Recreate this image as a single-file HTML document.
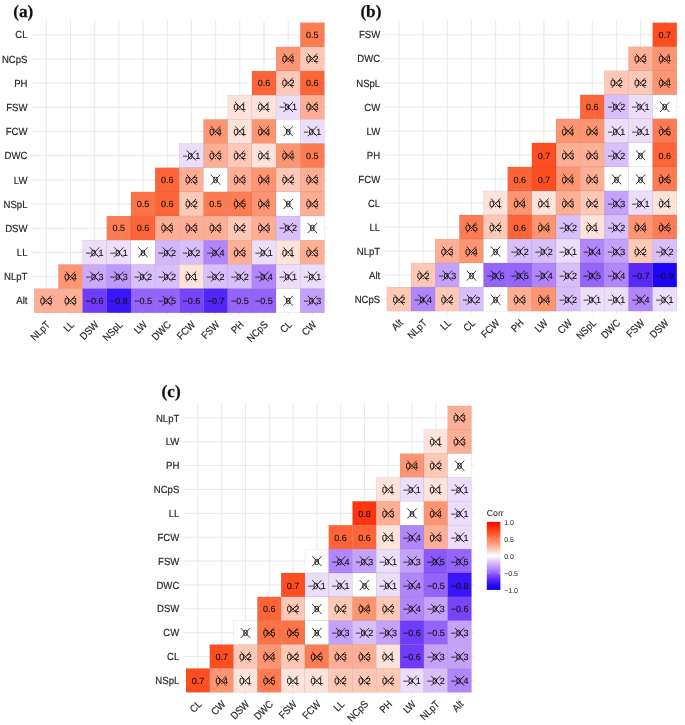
<!DOCTYPE html>
<html lang="en"><head><meta charset="utf-8"><title>Correlation heatmaps</title>
<style>
html,body{margin:0;padding:0;background:#fff}
body{width:685px;height:725px;overflow:hidden}
svg{display:block;will-change:transform;text-rendering:geometricPrecision;font-family:"Liberation Sans",sans-serif}
</style></head><body>
<svg width="685" height="725" viewBox="0 0 685 725">
<rect width="685" height="725" fill="#fff"/>
<g stroke="#DFDFDF" stroke-width="0.7">
<line x1="46.30" y1="20.28" x2="46.30" y2="315.22"/>
<line x1="31.78" y1="34.79" x2="326.90" y2="34.79"/>
<line x1="70.49" y1="20.28" x2="70.49" y2="315.22"/>
<line x1="31.78" y1="58.96" x2="326.90" y2="58.96"/>
<line x1="94.68" y1="20.28" x2="94.68" y2="315.22"/>
<line x1="31.78" y1="83.14" x2="326.90" y2="83.14"/>
<line x1="118.87" y1="20.28" x2="118.87" y2="315.22"/>
<line x1="31.78" y1="107.31" x2="326.90" y2="107.31"/>
<line x1="143.06" y1="20.28" x2="143.06" y2="315.22"/>
<line x1="31.78" y1="131.49" x2="326.90" y2="131.49"/>
<line x1="167.25" y1="20.28" x2="167.25" y2="315.22"/>
<line x1="31.78" y1="155.66" x2="326.90" y2="155.66"/>
<line x1="191.44" y1="20.28" x2="191.44" y2="315.22"/>
<line x1="31.78" y1="179.84" x2="326.90" y2="179.84"/>
<line x1="215.62" y1="20.28" x2="215.62" y2="315.22"/>
<line x1="31.78" y1="204.01" x2="326.90" y2="204.01"/>
<line x1="239.81" y1="20.28" x2="239.81" y2="315.22"/>
<line x1="31.78" y1="228.19" x2="326.90" y2="228.19"/>
<line x1="264.00" y1="20.28" x2="264.00" y2="315.22"/>
<line x1="31.78" y1="252.36" x2="326.90" y2="252.36"/>
<line x1="288.19" y1="20.28" x2="288.19" y2="315.22"/>
<line x1="31.78" y1="276.54" x2="326.90" y2="276.54"/>
<line x1="312.38" y1="20.28" x2="312.38" y2="315.22"/>
<line x1="31.78" y1="300.71" x2="326.90" y2="300.71"/>
</g>
<g stroke="#000" stroke-opacity="0.17" stroke-width="0.35">
<rect x="300.29" y="22.70" width="24.19" height="24.18" fill="#FD7C54"/>
<rect x="276.10" y="46.88" width="24.19" height="24.18" fill="#FD9573"/>
<rect x="300.29" y="46.88" width="24.19" height="24.18" fill="#FDC8B6"/>
<rect x="251.91" y="71.05" width="24.19" height="24.18" fill="#FD6538"/>
<rect x="276.10" y="71.05" width="24.19" height="24.18" fill="#FDC8B6"/>
<rect x="300.29" y="71.05" width="24.19" height="24.18" fill="#FD6538"/>
<rect x="227.72" y="95.23" width="24.19" height="24.18" fill="#FDE3D9"/>
<rect x="251.91" y="95.23" width="24.19" height="24.18" fill="#FDE3D9"/>
<rect x="276.10" y="95.23" width="24.19" height="24.18" fill="#ECDEFA"/>
<rect x="300.29" y="95.23" width="24.19" height="24.18" fill="#FDAE95"/>
<rect x="203.53" y="119.40" width="24.19" height="24.18" fill="#FD9573"/>
<rect x="227.72" y="119.40" width="24.19" height="24.18" fill="#FDE3D9"/>
<rect x="251.91" y="119.40" width="24.19" height="24.18" fill="#FD9573"/>
<rect x="276.10" y="119.40" width="24.19" height="24.18" fill="#FFFFFF"/>
<rect x="300.29" y="119.40" width="24.19" height="24.18" fill="#ECDEFA"/>
<rect x="179.34" y="143.57" width="24.19" height="24.18" fill="#ECDEFA"/>
<rect x="203.53" y="143.57" width="24.19" height="24.18" fill="#FDAE95"/>
<rect x="227.72" y="143.57" width="24.19" height="24.18" fill="#FDC8B6"/>
<rect x="251.91" y="143.57" width="24.19" height="24.18" fill="#FDE3D9"/>
<rect x="276.10" y="143.57" width="24.19" height="24.18" fill="#FD9573"/>
<rect x="300.29" y="143.57" width="24.19" height="24.18" fill="#FD7C54"/>
<rect x="155.15" y="167.75" width="24.19" height="24.18" fill="#FD6538"/>
<rect x="179.34" y="167.75" width="24.19" height="24.18" fill="#FDAE95"/>
<rect x="203.53" y="167.75" width="24.19" height="24.18" fill="#FFFFFF"/>
<rect x="227.72" y="167.75" width="24.19" height="24.18" fill="#FDAE95"/>
<rect x="251.91" y="167.75" width="24.19" height="24.18" fill="#FD9573"/>
<rect x="276.10" y="167.75" width="24.19" height="24.18" fill="#FDC8B6"/>
<rect x="300.29" y="167.75" width="24.19" height="24.18" fill="#FDAE95"/>
<rect x="130.96" y="191.92" width="24.19" height="24.18" fill="#FD7348"/>
<rect x="155.15" y="191.92" width="24.19" height="24.18" fill="#FD6538"/>
<rect x="179.34" y="191.92" width="24.19" height="24.18" fill="#FDC8B6"/>
<rect x="203.53" y="191.92" width="24.19" height="24.18" fill="#FD7C54"/>
<rect x="227.72" y="191.92" width="24.19" height="24.18" fill="#FD7C54"/>
<rect x="251.91" y="191.92" width="24.19" height="24.18" fill="#FD9573"/>
<rect x="276.10" y="191.92" width="24.19" height="24.18" fill="#FFFFFF"/>
<rect x="300.29" y="191.92" width="24.19" height="24.18" fill="#FDAE95"/>
<rect x="106.77" y="216.10" width="24.19" height="24.18" fill="#FD7C54"/>
<rect x="130.96" y="216.10" width="24.19" height="24.18" fill="#FD6538"/>
<rect x="155.15" y="216.10" width="24.19" height="24.18" fill="#FDAE95"/>
<rect x="179.34" y="216.10" width="24.19" height="24.18" fill="#FDAE95"/>
<rect x="203.53" y="216.10" width="24.19" height="24.18" fill="#FDAE95"/>
<rect x="227.72" y="216.10" width="24.19" height="24.18" fill="#FDC8B6"/>
<rect x="251.91" y="216.10" width="24.19" height="24.18" fill="#FDAE95"/>
<rect x="276.10" y="216.10" width="24.19" height="24.18" fill="#D9BFFA"/>
<rect x="300.29" y="216.10" width="24.19" height="24.18" fill="#FFFFFF"/>
<rect x="82.58" y="240.28" width="24.19" height="24.18" fill="#ECDEFA"/>
<rect x="106.77" y="240.28" width="24.19" height="24.18" fill="#ECDEFA"/>
<rect x="130.96" y="240.28" width="24.19" height="24.18" fill="#FFFFFF"/>
<rect x="155.15" y="240.28" width="24.19" height="24.18" fill="#D3B6FA"/>
<rect x="179.34" y="240.28" width="24.19" height="24.18" fill="#D9BFFA"/>
<rect x="203.53" y="240.28" width="24.19" height="24.18" fill="#B086FA"/>
<rect x="227.72" y="240.28" width="24.19" height="24.18" fill="#FDAE95"/>
<rect x="251.91" y="240.28" width="24.19" height="24.18" fill="#ECDEFA"/>
<rect x="276.10" y="240.28" width="24.19" height="24.18" fill="#FDE3D9"/>
<rect x="300.29" y="240.28" width="24.19" height="24.18" fill="#FDAE95"/>
<rect x="58.39" y="264.45" width="24.19" height="24.18" fill="#FD9573"/>
<rect x="82.58" y="264.45" width="24.19" height="24.18" fill="#CBAAFA"/>
<rect x="106.77" y="264.45" width="24.19" height="24.18" fill="#BE99FA"/>
<rect x="130.96" y="264.45" width="24.19" height="24.18" fill="#D9BFFA"/>
<rect x="155.15" y="264.45" width="24.19" height="24.18" fill="#D9BFFA"/>
<rect x="179.34" y="264.45" width="24.19" height="24.18" fill="#FDE3D9"/>
<rect x="203.53" y="264.45" width="24.19" height="24.18" fill="#D9BFFA"/>
<rect x="227.72" y="264.45" width="24.19" height="24.18" fill="#D9BFFA"/>
<rect x="251.91" y="264.45" width="24.19" height="24.18" fill="#B086FA"/>
<rect x="276.10" y="264.45" width="24.19" height="24.18" fill="#ECDEFA"/>
<rect x="300.29" y="264.45" width="24.19" height="24.18" fill="#ECDEFA"/>
<rect x="34.20" y="288.62" width="24.19" height="24.18" fill="#FDAE95"/>
<rect x="58.39" y="288.62" width="24.19" height="24.18" fill="#FDAE95"/>
<rect x="82.58" y="288.62" width="24.19" height="24.18" fill="#6E3CFA"/>
<rect x="106.77" y="288.62" width="24.19" height="24.18" fill="#3A14FA"/>
<rect x="130.96" y="288.62" width="24.19" height="24.18" fill="#9564FA"/>
<rect x="155.15" y="288.62" width="24.19" height="24.18" fill="#9564FA"/>
<rect x="179.34" y="288.62" width="24.19" height="24.18" fill="#7844FA"/>
<rect x="203.53" y="288.62" width="24.19" height="24.18" fill="#5325FA"/>
<rect x="227.72" y="288.62" width="24.19" height="24.18" fill="#9564FA"/>
<rect x="251.91" y="288.62" width="24.19" height="24.18" fill="#9564FA"/>
<rect x="276.10" y="288.62" width="24.19" height="24.18" fill="#FFFFFF"/>
<rect x="300.29" y="288.62" width="24.19" height="24.18" fill="#C5A2FA"/>
</g>
<g font-size="9.0" fill="#111" stroke="#111" stroke-width="0.12" text-anchor="middle">
<text x="312.38" y="37.76">0.5</text>
<text x="288.19" y="61.97">0.4</text>
<text x="312.38" y="61.97">0.2</text>
<text x="264.00" y="86.19">0.6</text>
<text x="288.19" y="86.19">0.2</text>
<text x="312.38" y="86.19">0.6</text>
<text x="239.81" y="110.40">0.1</text>
<text x="264.00" y="110.40">0.1</text>
<text x="288.19" y="110.40">−0.1</text>
<text x="312.38" y="110.40">0.3</text>
<text x="215.62" y="134.62">0.4</text>
<text x="239.81" y="134.62">0.1</text>
<text x="264.00" y="134.62">0.4</text>
<text x="288.19" y="134.62">0</text>
<text x="312.38" y="134.62">−0.1</text>
<text x="191.44" y="158.83">−0.1</text>
<text x="215.62" y="158.83">0.3</text>
<text x="239.81" y="158.83">0.2</text>
<text x="264.00" y="158.83">0.1</text>
<text x="288.19" y="158.83">0.4</text>
<text x="312.38" y="158.83">0.5</text>
<text x="167.25" y="183.05">0.6</text>
<text x="191.44" y="183.05">0.3</text>
<text x="215.62" y="183.05">0</text>
<text x="239.81" y="183.05">0.3</text>
<text x="264.00" y="183.05">0.4</text>
<text x="288.19" y="183.05">0.2</text>
<text x="312.38" y="183.05">0.3</text>
<text x="143.06" y="207.26">0.5</text>
<text x="167.25" y="207.26">0.6</text>
<text x="191.44" y="207.26">0.2</text>
<text x="215.62" y="207.26">0.5</text>
<text x="239.81" y="207.26">0.5</text>
<text x="264.00" y="207.26">0.4</text>
<text x="288.19" y="207.26">0</text>
<text x="312.38" y="207.26">0.3</text>
<text x="118.87" y="231.48">0.5</text>
<text x="143.06" y="231.48">0.6</text>
<text x="167.25" y="231.48">0.3</text>
<text x="191.44" y="231.48">0.3</text>
<text x="215.62" y="231.48">0.3</text>
<text x="239.81" y="231.48">0.2</text>
<text x="264.00" y="231.48">0.3</text>
<text x="288.19" y="231.48">−0.2</text>
<text x="312.38" y="231.48">0</text>
<text x="94.68" y="255.69">−0.1</text>
<text x="118.87" y="255.69">−0.1</text>
<text x="143.06" y="255.69">0</text>
<text x="167.25" y="255.69">−0.2</text>
<text x="191.44" y="255.69">−0.2</text>
<text x="215.62" y="255.69">−0.4</text>
<text x="239.81" y="255.69">0.3</text>
<text x="264.00" y="255.69">−0.1</text>
<text x="288.19" y="255.69">0.1</text>
<text x="312.38" y="255.69">0.3</text>
<text x="70.49" y="279.91">0.4</text>
<text x="94.68" y="279.91">−0.3</text>
<text x="118.87" y="279.91">−0.3</text>
<text x="143.06" y="279.91">−0.2</text>
<text x="167.25" y="279.91">−0.2</text>
<text x="191.44" y="279.91">0.1</text>
<text x="215.62" y="279.91">−0.2</text>
<text x="239.81" y="279.91">−0.2</text>
<text x="264.00" y="279.91">−0.4</text>
<text x="288.19" y="279.91">−0.1</text>
<text x="312.38" y="279.91">−0.1</text>
<text x="46.30" y="304.12">0.3</text>
<text x="70.49" y="304.12">0.3</text>
<text x="94.68" y="304.12">−0.6</text>
<text x="118.87" y="304.12">−0.8</text>
<text x="143.06" y="304.12">−0.5</text>
<text x="167.25" y="304.12">−0.5</text>
<text x="191.44" y="304.12">−0.6</text>
<text x="215.62" y="304.12">−0.7</text>
<text x="239.81" y="304.12">−0.5</text>
<text x="264.00" y="304.12">−0.5</text>
<text x="288.19" y="304.12">0</text>
<text x="312.38" y="304.12">−0.3</text>
</g>
<g stroke="#000" stroke-width="0.8" fill="none">
<path d="M283.50 53.62L292.89 63.58M283.50 63.58L292.89 53.62"/>
<path d="M307.69 53.62L317.08 63.58M307.69 63.58L317.08 53.62"/>
<path d="M283.50 77.84L292.89 87.80M283.50 87.80L292.89 77.84"/>
<path d="M235.12 102.05L244.51 112.01M235.12 112.01L244.51 102.05"/>
<path d="M259.31 102.05L268.70 112.01M259.31 112.01L268.70 102.05"/>
<path d="M283.50 102.05L292.89 112.01M283.50 112.01L292.89 102.05"/>
<path d="M307.69 102.05L317.08 112.01M307.69 112.01L317.08 102.05"/>
<path d="M210.93 126.27L220.32 136.23M210.93 136.23L220.32 126.27"/>
<path d="M235.12 126.27L244.51 136.23M235.12 136.23L244.51 126.27"/>
<path d="M259.31 126.27L268.70 136.23M259.31 136.23L268.70 126.27"/>
<path d="M283.50 126.27L292.89 136.23M283.50 136.23L292.89 126.27"/>
<path d="M307.69 126.27L317.08 136.23M307.69 136.23L317.08 126.27"/>
<path d="M186.74 150.48L196.13 160.44M186.74 160.44L196.13 150.48"/>
<path d="M210.93 150.48L220.32 160.44M210.93 160.44L220.32 150.48"/>
<path d="M235.12 150.48L244.51 160.44M235.12 160.44L244.51 150.48"/>
<path d="M259.31 150.48L268.70 160.44M259.31 160.44L268.70 150.48"/>
<path d="M283.50 150.48L292.89 160.44M283.50 160.44L292.89 150.48"/>
<path d="M186.74 174.70L196.13 184.66M186.74 184.66L196.13 174.70"/>
<path d="M210.93 174.70L220.32 184.66M210.93 184.66L220.32 174.70"/>
<path d="M235.12 174.70L244.51 184.66M235.12 184.66L244.51 174.70"/>
<path d="M259.31 174.70L268.70 184.66M259.31 184.66L268.70 174.70"/>
<path d="M283.50 174.70L292.89 184.66M283.50 184.66L292.89 174.70"/>
<path d="M307.69 174.70L317.08 184.66M307.69 184.66L317.08 174.70"/>
<path d="M186.74 198.91L196.13 208.87M186.74 208.87L196.13 198.91"/>
<path d="M235.12 198.91L244.51 208.87M235.12 208.87L244.51 198.91"/>
<path d="M259.31 198.91L268.70 208.87M259.31 208.87L268.70 198.91"/>
<path d="M283.50 198.91L292.89 208.87M283.50 208.87L292.89 198.91"/>
<path d="M307.69 198.91L317.08 208.87M307.69 208.87L317.08 198.91"/>
<path d="M162.55 223.13L171.94 233.09M162.55 233.09L171.94 223.13"/>
<path d="M186.74 223.13L196.13 233.09M186.74 233.09L196.13 223.13"/>
<path d="M210.93 223.13L220.32 233.09M210.93 233.09L220.32 223.13"/>
<path d="M235.12 223.13L244.51 233.09M235.12 233.09L244.51 223.13"/>
<path d="M259.31 223.13L268.70 233.09M259.31 233.09L268.70 223.13"/>
<path d="M283.50 223.13L292.89 233.09M283.50 233.09L292.89 223.13"/>
<path d="M307.69 223.13L317.08 233.09M307.69 233.09L317.08 223.13"/>
<path d="M89.98 247.34L99.38 257.30M89.98 257.30L99.38 247.34"/>
<path d="M114.17 247.34L123.57 257.30M114.17 257.30L123.57 247.34"/>
<path d="M138.36 247.34L147.75 257.30M138.36 257.30L147.75 247.34"/>
<path d="M162.55 247.34L171.94 257.30M162.55 257.30L171.94 247.34"/>
<path d="M186.74 247.34L196.13 257.30M186.74 257.30L196.13 247.34"/>
<path d="M210.93 247.34L220.32 257.30M210.93 257.30L220.32 247.34"/>
<path d="M235.12 247.34L244.51 257.30M235.12 257.30L244.51 247.34"/>
<path d="M259.31 247.34L268.70 257.30M259.31 257.30L268.70 247.34"/>
<path d="M283.50 247.34L292.89 257.30M283.50 257.30L292.89 247.34"/>
<path d="M307.69 247.34L317.08 257.30M307.69 257.30L317.08 247.34"/>
<path d="M65.79 271.56L75.19 281.52M65.79 281.52L75.19 271.56"/>
<path d="M89.98 271.56L99.38 281.52M89.98 281.52L99.38 271.56"/>
<path d="M114.17 271.56L123.57 281.52M114.17 281.52L123.57 271.56"/>
<path d="M138.36 271.56L147.75 281.52M138.36 281.52L147.75 271.56"/>
<path d="M162.55 271.56L171.94 281.52M162.55 281.52L171.94 271.56"/>
<path d="M186.74 271.56L196.13 281.52M186.74 281.52L196.13 271.56"/>
<path d="M210.93 271.56L220.32 281.52M210.93 281.52L220.32 271.56"/>
<path d="M235.12 271.56L244.51 281.52M235.12 281.52L244.51 271.56"/>
<path d="M259.31 271.56L268.70 281.52M259.31 281.52L268.70 271.56"/>
<path d="M283.50 271.56L292.89 281.52M283.50 281.52L292.89 271.56"/>
<path d="M307.69 271.56L317.08 281.52M307.69 281.52L317.08 271.56"/>
<path d="M41.59 295.77L51.00 305.73M41.59 305.73L51.00 295.77"/>
<path d="M65.79 295.77L75.19 305.73M65.79 305.73L75.19 295.77"/>
<path d="M162.55 295.77L171.94 305.73M162.55 305.73L171.94 295.77"/>
<path d="M283.50 295.77L292.89 305.73M283.50 305.73L292.89 295.77"/>
<path d="M307.69 295.77L317.08 305.73M307.69 305.73L317.08 295.77"/>
</g>
<g font-size="10.3" fill="#262626" stroke="#262626" stroke-width="0.18" text-anchor="end">
<text transform="translate(27.48 38.47) scale(0.93 1)">CL</text>
<text transform="translate(27.48 62.65) scale(0.93 1)">NCpS</text>
<text transform="translate(27.48 86.82) scale(0.93 1)">PH</text>
<text transform="translate(27.48 111.00) scale(0.93 1)">FSW</text>
<text transform="translate(27.48 135.17) scale(0.93 1)">FCW</text>
<text transform="translate(27.48 159.35) scale(0.93 1)">DWC</text>
<text transform="translate(27.48 183.52) scale(0.93 1)">LW</text>
<text transform="translate(27.48 207.70) scale(0.93 1)">NSpL</text>
<text transform="translate(27.48 231.87) scale(0.93 1)">DSW</text>
<text transform="translate(27.48 256.05) scale(0.93 1)">LL</text>
<text transform="translate(27.48 280.22) scale(0.93 1)">NLpT</text>
<text transform="translate(27.48 304.40) scale(0.93 1)">Alt</text>
</g>
<g font-size="10.3" fill="#262626" stroke="#262626" stroke-width="0.18" text-anchor="end">
<text transform="translate(48.20 322.62) rotate(-45) scale(0.9 1)" x="0" y="3.69">NLpT</text>
<text transform="translate(72.39 322.62) rotate(-45) scale(0.9 1)" x="0" y="3.69">LL</text>
<text transform="translate(96.58 322.62) rotate(-45) scale(0.9 1)" x="0" y="3.69">DSW</text>
<text transform="translate(120.77 322.62) rotate(-45) scale(0.9 1)" x="0" y="3.69">NSpL</text>
<text transform="translate(144.96 322.62) rotate(-45) scale(0.9 1)" x="0" y="3.69">LW</text>
<text transform="translate(169.15 322.62) rotate(-45) scale(0.9 1)" x="0" y="3.69">DWC</text>
<text transform="translate(193.34 322.62) rotate(-45) scale(0.9 1)" x="0" y="3.69">FCW</text>
<text transform="translate(217.53 322.62) rotate(-45) scale(0.9 1)" x="0" y="3.69">FSW</text>
<text transform="translate(241.72 322.62) rotate(-45) scale(0.9 1)" x="0" y="3.69">PH</text>
<text transform="translate(265.90 322.62) rotate(-45) scale(0.9 1)" x="0" y="3.69">NCpS</text>
<text transform="translate(290.09 322.62) rotate(-45) scale(0.9 1)" x="0" y="3.69">CL</text>
<text transform="translate(314.28 322.62) rotate(-45) scale(0.9 1)" x="0" y="3.69">CW</text>
</g>
<text x="13.3" y="17.0" font-family="'Liberation Serif',serif" font-weight="bold" font-size="17.2" fill="#111" stroke="#111" stroke-width="0.25">(a)</text>
<g stroke="#DFDFDF" stroke-width="0.7">
<line x1="398.98" y1="20.36" x2="398.98" y2="313.52"/>
<line x1="384.48" y1="34.78" x2="679.24" y2="34.78"/>
<line x1="423.14" y1="20.36" x2="423.14" y2="313.52"/>
<line x1="384.48" y1="58.81" x2="679.24" y2="58.81"/>
<line x1="447.30" y1="20.36" x2="447.30" y2="313.52"/>
<line x1="384.48" y1="82.84" x2="679.24" y2="82.84"/>
<line x1="471.46" y1="20.36" x2="471.46" y2="313.52"/>
<line x1="384.48" y1="106.87" x2="679.24" y2="106.87"/>
<line x1="495.62" y1="20.36" x2="495.62" y2="313.52"/>
<line x1="384.48" y1="130.90" x2="679.24" y2="130.90"/>
<line x1="519.78" y1="20.36" x2="519.78" y2="313.52"/>
<line x1="384.48" y1="154.93" x2="679.24" y2="154.93"/>
<line x1="543.94" y1="20.36" x2="543.94" y2="313.52"/>
<line x1="384.48" y1="178.95" x2="679.24" y2="178.95"/>
<line x1="568.10" y1="20.36" x2="568.10" y2="313.52"/>
<line x1="384.48" y1="202.99" x2="679.24" y2="202.99"/>
<line x1="592.26" y1="20.36" x2="592.26" y2="313.52"/>
<line x1="384.48" y1="227.01" x2="679.24" y2="227.01"/>
<line x1="616.42" y1="20.36" x2="616.42" y2="313.52"/>
<line x1="384.48" y1="251.05" x2="679.24" y2="251.05"/>
<line x1="640.58" y1="20.36" x2="640.58" y2="313.52"/>
<line x1="384.48" y1="275.07" x2="679.24" y2="275.07"/>
<line x1="664.74" y1="20.36" x2="664.74" y2="313.52"/>
<line x1="384.48" y1="299.11" x2="679.24" y2="299.11"/>
</g>
<g stroke="#000" stroke-opacity="0.17" stroke-width="0.35">
<rect x="652.66" y="22.76" width="24.16" height="24.03" fill="#FD4E22"/>
<rect x="628.50" y="46.79" width="24.16" height="24.03" fill="#FDAE95"/>
<rect x="652.66" y="46.79" width="24.16" height="24.03" fill="#FD9573"/>
<rect x="604.34" y="70.82" width="24.16" height="24.03" fill="#FDC8B6"/>
<rect x="628.50" y="70.82" width="24.16" height="24.03" fill="#FDC8B6"/>
<rect x="652.66" y="70.82" width="24.16" height="24.03" fill="#FD9573"/>
<rect x="580.18" y="94.85" width="24.16" height="24.03" fill="#FD6538"/>
<rect x="604.34" y="94.85" width="24.16" height="24.03" fill="#D9BFFA"/>
<rect x="628.50" y="94.85" width="24.16" height="24.03" fill="#ECDEFA"/>
<rect x="652.66" y="94.85" width="24.16" height="24.03" fill="#FFFFFF"/>
<rect x="556.02" y="118.88" width="24.16" height="24.03" fill="#FD9573"/>
<rect x="580.18" y="118.88" width="24.16" height="24.03" fill="#FD9573"/>
<rect x="604.34" y="118.88" width="24.16" height="24.03" fill="#ECDEFA"/>
<rect x="628.50" y="118.88" width="24.16" height="24.03" fill="#ECDEFA"/>
<rect x="652.66" y="118.88" width="24.16" height="24.03" fill="#FD7C54"/>
<rect x="531.86" y="142.91" width="24.16" height="24.03" fill="#FD4E22"/>
<rect x="556.02" y="142.91" width="24.16" height="24.03" fill="#FDAE95"/>
<rect x="580.18" y="142.91" width="24.16" height="24.03" fill="#FDAE95"/>
<rect x="604.34" y="142.91" width="24.16" height="24.03" fill="#D9BFFA"/>
<rect x="628.50" y="142.91" width="24.16" height="24.03" fill="#FFFFFF"/>
<rect x="652.66" y="142.91" width="24.16" height="24.03" fill="#FD6538"/>
<rect x="507.70" y="166.94" width="24.16" height="24.03" fill="#FD6538"/>
<rect x="531.86" y="166.94" width="24.16" height="24.03" fill="#FD4E22"/>
<rect x="556.02" y="166.94" width="24.16" height="24.03" fill="#FD9573"/>
<rect x="580.18" y="166.94" width="24.16" height="24.03" fill="#FDAE95"/>
<rect x="604.34" y="166.94" width="24.16" height="24.03" fill="#FFFFFF"/>
<rect x="628.50" y="166.94" width="24.16" height="24.03" fill="#FFFFFF"/>
<rect x="652.66" y="166.94" width="24.16" height="24.03" fill="#FD7C54"/>
<rect x="483.54" y="190.97" width="24.16" height="24.03" fill="#FDE3D9"/>
<rect x="507.70" y="190.97" width="24.16" height="24.03" fill="#FD9573"/>
<rect x="531.86" y="190.97" width="24.16" height="24.03" fill="#FDE3D9"/>
<rect x="556.02" y="190.97" width="24.16" height="24.03" fill="#FDAE95"/>
<rect x="580.18" y="190.97" width="24.16" height="24.03" fill="#FDC8B6"/>
<rect x="604.34" y="190.97" width="24.16" height="24.03" fill="#C5A2FA"/>
<rect x="628.50" y="190.97" width="24.16" height="24.03" fill="#ECDEFA"/>
<rect x="652.66" y="190.97" width="24.16" height="24.03" fill="#FDE3D9"/>
<rect x="459.38" y="215.00" width="24.16" height="24.03" fill="#FD7C54"/>
<rect x="483.54" y="215.00" width="24.16" height="24.03" fill="#FDC8B6"/>
<rect x="507.70" y="215.00" width="24.16" height="24.03" fill="#FD6538"/>
<rect x="531.86" y="215.00" width="24.16" height="24.03" fill="#FD9573"/>
<rect x="556.02" y="215.00" width="24.16" height="24.03" fill="#D9BFFA"/>
<rect x="580.18" y="215.00" width="24.16" height="24.03" fill="#FDE3D9"/>
<rect x="604.34" y="215.00" width="24.16" height="24.03" fill="#D9BFFA"/>
<rect x="628.50" y="215.00" width="24.16" height="24.03" fill="#FD9573"/>
<rect x="652.66" y="215.00" width="24.16" height="24.03" fill="#FD7C54"/>
<rect x="435.22" y="239.03" width="24.16" height="24.03" fill="#FDAE95"/>
<rect x="459.38" y="239.03" width="24.16" height="24.03" fill="#FD9573"/>
<rect x="483.54" y="239.03" width="24.16" height="24.03" fill="#FFFFFF"/>
<rect x="507.70" y="239.03" width="24.16" height="24.03" fill="#D9BFFA"/>
<rect x="531.86" y="239.03" width="24.16" height="24.03" fill="#D9BFFA"/>
<rect x="556.02" y="239.03" width="24.16" height="24.03" fill="#ECDEFA"/>
<rect x="580.18" y="239.03" width="24.16" height="24.03" fill="#B086FA"/>
<rect x="604.34" y="239.03" width="24.16" height="24.03" fill="#C5A2FA"/>
<rect x="628.50" y="239.03" width="24.16" height="24.03" fill="#FDC8B6"/>
<rect x="652.66" y="239.03" width="24.16" height="24.03" fill="#D9BFFA"/>
<rect x="411.06" y="263.06" width="24.16" height="24.03" fill="#FDC8B6"/>
<rect x="435.22" y="263.06" width="24.16" height="24.03" fill="#C5A2FA"/>
<rect x="459.38" y="263.06" width="24.16" height="24.03" fill="#FFFFFF"/>
<rect x="483.54" y="263.06" width="24.16" height="24.03" fill="#9564FA"/>
<rect x="507.70" y="263.06" width="24.16" height="24.03" fill="#9564FA"/>
<rect x="531.86" y="263.06" width="24.16" height="24.03" fill="#B086FA"/>
<rect x="556.02" y="263.06" width="24.16" height="24.03" fill="#D9BFFA"/>
<rect x="580.18" y="263.06" width="24.16" height="24.03" fill="#9564FA"/>
<rect x="604.34" y="263.06" width="24.16" height="24.03" fill="#B086FA"/>
<rect x="628.50" y="263.06" width="24.16" height="24.03" fill="#5929FA"/>
<rect x="652.66" y="263.06" width="24.16" height="24.03" fill="#1B06FA"/>
<rect x="386.90" y="287.09" width="24.16" height="24.03" fill="#FDC8B6"/>
<rect x="411.06" y="287.09" width="24.16" height="24.03" fill="#B086FA"/>
<rect x="435.22" y="287.09" width="24.16" height="24.03" fill="#FDC8B6"/>
<rect x="459.38" y="287.09" width="24.16" height="24.03" fill="#D9BFFA"/>
<rect x="483.54" y="287.09" width="24.16" height="24.03" fill="#FFFFFF"/>
<rect x="507.70" y="287.09" width="24.16" height="24.03" fill="#FDAE95"/>
<rect x="531.86" y="287.09" width="24.16" height="24.03" fill="#FD9573"/>
<rect x="556.02" y="287.09" width="24.16" height="24.03" fill="#D9BFFA"/>
<rect x="580.18" y="287.09" width="24.16" height="24.03" fill="#ECDEFA"/>
<rect x="604.34" y="287.09" width="24.16" height="24.03" fill="#ECDEFA"/>
<rect x="628.50" y="287.09" width="24.16" height="24.03" fill="#B086FA"/>
<rect x="652.66" y="287.09" width="24.16" height="24.03" fill="#ECDEFA"/>
</g>
<g font-size="9.0" fill="#111" stroke="#111" stroke-width="0.12" text-anchor="middle">
<text x="664.74" y="38.15">0.7</text>
<text x="640.58" y="62.24">0.3</text>
<text x="664.74" y="62.24">0.4</text>
<text x="616.42" y="86.33">0.2</text>
<text x="640.58" y="86.33">0.2</text>
<text x="664.74" y="86.33">0.4</text>
<text x="592.26" y="110.42">0.6</text>
<text x="616.42" y="110.42">−0.2</text>
<text x="640.58" y="110.42">−0.1</text>
<text x="664.74" y="110.42">0</text>
<text x="568.10" y="134.51">0.4</text>
<text x="592.26" y="134.51">0.4</text>
<text x="616.42" y="134.51">−0.1</text>
<text x="640.58" y="134.51">−0.1</text>
<text x="664.74" y="134.51">0.5</text>
<text x="543.94" y="158.60">0.7</text>
<text x="568.10" y="158.60">0.3</text>
<text x="592.26" y="158.60">0.3</text>
<text x="616.42" y="158.60">−0.2</text>
<text x="640.58" y="158.60">0</text>
<text x="664.74" y="158.60">0.6</text>
<text x="519.78" y="182.69">0.6</text>
<text x="543.94" y="182.69">0.7</text>
<text x="568.10" y="182.69">0.4</text>
<text x="592.26" y="182.69">0.3</text>
<text x="616.42" y="182.69">0</text>
<text x="640.58" y="182.69">0</text>
<text x="664.74" y="182.69">0.5</text>
<text x="495.62" y="206.78">0.1</text>
<text x="519.78" y="206.78">0.4</text>
<text x="543.94" y="206.78">0.1</text>
<text x="568.10" y="206.78">0.3</text>
<text x="592.26" y="206.78">0.2</text>
<text x="616.42" y="206.78">−0.3</text>
<text x="640.58" y="206.78">−0.1</text>
<text x="664.74" y="206.78">0.1</text>
<text x="471.46" y="230.87">0.5</text>
<text x="495.62" y="230.87">0.2</text>
<text x="519.78" y="230.87">0.6</text>
<text x="543.94" y="230.87">0.4</text>
<text x="568.10" y="230.87">−0.2</text>
<text x="592.26" y="230.87">0.1</text>
<text x="616.42" y="230.87">−0.2</text>
<text x="640.58" y="230.87">0.4</text>
<text x="664.74" y="230.87">0.5</text>
<text x="447.30" y="254.96">0.3</text>
<text x="471.46" y="254.96">0.4</text>
<text x="495.62" y="254.96">0</text>
<text x="519.78" y="254.96">−0.2</text>
<text x="543.94" y="254.96">−0.2</text>
<text x="568.10" y="254.96">−0.1</text>
<text x="592.26" y="254.96">−0.4</text>
<text x="616.42" y="254.96">−0.3</text>
<text x="640.58" y="254.96">0.2</text>
<text x="664.74" y="254.96">−0.2</text>
<text x="423.14" y="279.05">0.2</text>
<text x="447.30" y="279.05">−0.3</text>
<text x="471.46" y="279.05">0</text>
<text x="495.62" y="279.05">−0.5</text>
<text x="519.78" y="279.05">−0.5</text>
<text x="543.94" y="279.05">−0.4</text>
<text x="568.10" y="279.05">−0.2</text>
<text x="592.26" y="279.05">−0.5</text>
<text x="616.42" y="279.05">−0.4</text>
<text x="640.58" y="279.05">−0.7</text>
<text x="664.74" y="279.05">−0.9</text>
<text x="398.98" y="303.14">0.2</text>
<text x="423.14" y="303.14">−0.4</text>
<text x="447.30" y="303.14">0.2</text>
<text x="471.46" y="303.14">−0.2</text>
<text x="495.62" y="303.14">0</text>
<text x="519.78" y="303.14">0.3</text>
<text x="543.94" y="303.14">0.4</text>
<text x="568.10" y="303.14">−0.2</text>
<text x="592.26" y="303.14">−0.1</text>
<text x="616.42" y="303.14">−0.1</text>
<text x="640.58" y="303.14">−0.4</text>
<text x="664.74" y="303.14">−0.1</text>
</g>
<g stroke="#000" stroke-width="0.8" fill="none">
<path d="M635.88 53.88L645.28 63.85M635.88 63.85L645.28 53.88"/>
<path d="M660.04 53.88L669.44 63.85M660.04 63.85L669.44 53.88"/>
<path d="M611.72 77.97L621.12 87.94M611.72 87.94L621.12 77.97"/>
<path d="M635.88 77.97L645.28 87.94M635.88 87.94L645.28 77.97"/>
<path d="M660.04 77.97L669.44 87.94M660.04 87.94L669.44 77.97"/>
<path d="M611.72 102.06L621.12 112.03M611.72 112.03L621.12 102.06"/>
<path d="M635.88 102.06L645.28 112.03M635.88 112.03L645.28 102.06"/>
<path d="M660.04 102.06L669.44 112.03M660.04 112.03L669.44 102.06"/>
<path d="M563.40 126.15L572.80 136.12M563.40 136.12L572.80 126.15"/>
<path d="M587.56 126.15L596.96 136.12M587.56 136.12L596.96 126.15"/>
<path d="M611.72 126.15L621.12 136.12M611.72 136.12L621.12 126.15"/>
<path d="M635.88 126.15L645.28 136.12M635.88 136.12L645.28 126.15"/>
<path d="M660.04 126.15L669.44 136.12M660.04 136.12L669.44 126.15"/>
<path d="M563.40 150.24L572.80 160.21M563.40 160.21L572.80 150.24"/>
<path d="M587.56 150.24L596.96 160.21M587.56 160.21L596.96 150.24"/>
<path d="M611.72 150.24L621.12 160.21M611.72 160.21L621.12 150.24"/>
<path d="M635.88 150.24L645.28 160.21M635.88 160.21L645.28 150.24"/>
<path d="M563.40 174.33L572.80 184.30M563.40 184.30L572.80 174.33"/>
<path d="M587.56 174.33L596.96 184.30M587.56 184.30L596.96 174.33"/>
<path d="M611.72 174.33L621.12 184.30M611.72 184.30L621.12 174.33"/>
<path d="M635.88 174.33L645.28 184.30M635.88 184.30L645.28 174.33"/>
<path d="M660.04 174.33L669.44 184.30M660.04 184.30L669.44 174.33"/>
<path d="M490.92 198.42L500.32 208.39M490.92 208.39L500.32 198.42"/>
<path d="M515.08 198.42L524.48 208.39M515.08 208.39L524.48 198.42"/>
<path d="M539.24 198.42L548.64 208.39M539.24 208.39L548.64 198.42"/>
<path d="M563.40 198.42L572.80 208.39M563.40 208.39L572.80 198.42"/>
<path d="M587.56 198.42L596.96 208.39M587.56 208.39L596.96 198.42"/>
<path d="M611.72 198.42L621.12 208.39M611.72 208.39L621.12 198.42"/>
<path d="M635.88 198.42L645.28 208.39M635.88 208.39L645.28 198.42"/>
<path d="M660.04 198.42L669.44 208.39M660.04 208.39L669.44 198.42"/>
<path d="M466.76 222.51L476.16 232.48M466.76 232.48L476.16 222.51"/>
<path d="M490.92 222.51L500.32 232.48M490.92 232.48L500.32 222.51"/>
<path d="M539.24 222.51L548.64 232.48M539.24 232.48L548.64 222.51"/>
<path d="M563.40 222.51L572.80 232.48M563.40 232.48L572.80 222.51"/>
<path d="M587.56 222.51L596.96 232.48M587.56 232.48L596.96 222.51"/>
<path d="M611.72 222.51L621.12 232.48M611.72 232.48L621.12 222.51"/>
<path d="M635.88 222.51L645.28 232.48M635.88 232.48L645.28 222.51"/>
<path d="M660.04 222.51L669.44 232.48M660.04 232.48L669.44 222.51"/>
<path d="M442.60 246.60L452.00 256.57M442.60 256.57L452.00 246.60"/>
<path d="M466.76 246.60L476.16 256.57M466.76 256.57L476.16 246.60"/>
<path d="M490.92 246.60L500.32 256.57M490.92 256.57L500.32 246.60"/>
<path d="M515.08 246.60L524.48 256.57M515.08 256.57L524.48 246.60"/>
<path d="M539.24 246.60L548.64 256.57M539.24 256.57L548.64 246.60"/>
<path d="M563.40 246.60L572.80 256.57M563.40 256.57L572.80 246.60"/>
<path d="M587.56 246.60L596.96 256.57M587.56 256.57L596.96 246.60"/>
<path d="M611.72 246.60L621.12 256.57M611.72 256.57L621.12 246.60"/>
<path d="M635.88 246.60L645.28 256.57M635.88 256.57L645.28 246.60"/>
<path d="M660.04 246.60L669.44 256.57M660.04 256.57L669.44 246.60"/>
<path d="M418.44 270.69L427.84 280.66M418.44 280.66L427.84 270.69"/>
<path d="M442.60 270.69L452.00 280.66M442.60 280.66L452.00 270.69"/>
<path d="M466.76 270.69L476.16 280.66M466.76 280.66L476.16 270.69"/>
<path d="M490.92 270.69L500.32 280.66M490.92 280.66L500.32 270.69"/>
<path d="M515.08 270.69L524.48 280.66M515.08 280.66L524.48 270.69"/>
<path d="M539.24 270.69L548.64 280.66M539.24 280.66L548.64 270.69"/>
<path d="M563.40 270.69L572.80 280.66M563.40 280.66L572.80 270.69"/>
<path d="M587.56 270.69L596.96 280.66M587.56 280.66L596.96 270.69"/>
<path d="M611.72 270.69L621.12 280.66M611.72 280.66L621.12 270.69"/>
<path d="M394.28 294.78L403.68 304.75M394.28 304.75L403.68 294.78"/>
<path d="M418.44 294.78L427.84 304.75M418.44 304.75L427.84 294.78"/>
<path d="M442.60 294.78L452.00 304.75M442.60 304.75L452.00 294.78"/>
<path d="M466.76 294.78L476.16 304.75M466.76 304.75L476.16 294.78"/>
<path d="M490.92 294.78L500.32 304.75M490.92 304.75L500.32 294.78"/>
<path d="M515.08 294.78L524.48 304.75M515.08 304.75L524.48 294.78"/>
<path d="M539.24 294.78L548.64 304.75M539.24 304.75L548.64 294.78"/>
<path d="M563.40 294.78L572.80 304.75M563.40 304.75L572.80 294.78"/>
<path d="M587.56 294.78L596.96 304.75M587.56 304.75L596.96 294.78"/>
<path d="M611.72 294.78L621.12 304.75M611.72 304.75L621.12 294.78"/>
<path d="M635.88 294.78L645.28 304.75M635.88 304.75L645.28 294.78"/>
<path d="M660.04 294.78L669.44 304.75M660.04 304.75L669.44 294.78"/>
</g>
<g font-size="10.3" fill="#262626" stroke="#262626" stroke-width="0.18" text-anchor="end">
<text transform="translate(380.18 38.46) scale(0.93 1)">FSW</text>
<text transform="translate(380.18 62.49) scale(0.93 1)">DWC</text>
<text transform="translate(380.18 86.52) scale(0.93 1)">NSpL</text>
<text transform="translate(380.18 110.55) scale(0.93 1)">CW</text>
<text transform="translate(380.18 134.58) scale(0.93 1)">LW</text>
<text transform="translate(380.18 158.61) scale(0.93 1)">PH</text>
<text transform="translate(380.18 182.64) scale(0.93 1)">FCW</text>
<text transform="translate(380.18 206.67) scale(0.93 1)">CL</text>
<text transform="translate(380.18 230.70) scale(0.93 1)">LL</text>
<text transform="translate(380.18 254.73) scale(0.93 1)">NLpT</text>
<text transform="translate(380.18 278.76) scale(0.93 1)">Alt</text>
<text transform="translate(380.18 302.79) scale(0.93 1)">NCpS</text>
</g>
<g font-size="10.3" fill="#262626" stroke="#262626" stroke-width="0.18" text-anchor="end">
<text transform="translate(400.88 320.92) rotate(-45) scale(0.9 1)" x="0" y="3.69">Alt</text>
<text transform="translate(425.04 320.92) rotate(-45) scale(0.9 1)" x="0" y="3.69">NLpT</text>
<text transform="translate(449.20 320.92) rotate(-45) scale(0.9 1)" x="0" y="3.69">LL</text>
<text transform="translate(473.36 320.92) rotate(-45) scale(0.9 1)" x="0" y="3.69">CL</text>
<text transform="translate(497.52 320.92) rotate(-45) scale(0.9 1)" x="0" y="3.69">FCW</text>
<text transform="translate(521.68 320.92) rotate(-45) scale(0.9 1)" x="0" y="3.69">PH</text>
<text transform="translate(545.84 320.92) rotate(-45) scale(0.9 1)" x="0" y="3.69">LW</text>
<text transform="translate(570.00 320.92) rotate(-45) scale(0.9 1)" x="0" y="3.69">CW</text>
<text transform="translate(594.16 320.92) rotate(-45) scale(0.9 1)" x="0" y="3.69">NSpL</text>
<text transform="translate(618.32 320.92) rotate(-45) scale(0.9 1)" x="0" y="3.69">DWC</text>
<text transform="translate(642.48 320.92) rotate(-45) scale(0.9 1)" x="0" y="3.69">FSW</text>
<text transform="translate(666.64 320.92) rotate(-45) scale(0.9 1)" x="0" y="3.69">DSW</text>
</g>
<text x="360.4" y="17.3" font-family="'Liberation Serif',serif" font-weight="bold" font-size="17.2" fill="#111" stroke="#111" stroke-width="0.25">(b)</text>
<g stroke="#DFDFDF" stroke-width="0.7">
<line x1="197.90" y1="403.51" x2="197.90" y2="694.73"/>
<line x1="183.62" y1="417.83" x2="473.86" y2="417.83"/>
<line x1="221.69" y1="403.51" x2="221.69" y2="694.73"/>
<line x1="183.62" y1="441.70" x2="473.86" y2="441.70"/>
<line x1="245.47" y1="403.51" x2="245.47" y2="694.73"/>
<line x1="183.62" y1="465.57" x2="473.86" y2="465.57"/>
<line x1="269.26" y1="403.51" x2="269.26" y2="694.73"/>
<line x1="183.62" y1="489.44" x2="473.86" y2="489.44"/>
<line x1="293.06" y1="403.51" x2="293.06" y2="694.73"/>
<line x1="183.62" y1="513.31" x2="473.86" y2="513.31"/>
<line x1="316.85" y1="403.51" x2="316.85" y2="694.73"/>
<line x1="183.62" y1="537.18" x2="473.86" y2="537.18"/>
<line x1="340.63" y1="403.51" x2="340.63" y2="694.73"/>
<line x1="183.62" y1="561.05" x2="473.86" y2="561.05"/>
<line x1="364.42" y1="403.51" x2="364.42" y2="694.73"/>
<line x1="183.62" y1="584.92" x2="473.86" y2="584.92"/>
<line x1="388.22" y1="403.51" x2="388.22" y2="694.73"/>
<line x1="183.62" y1="608.79" x2="473.86" y2="608.79"/>
<line x1="412.00" y1="403.51" x2="412.00" y2="694.73"/>
<line x1="183.62" y1="632.66" x2="473.86" y2="632.66"/>
<line x1="435.79" y1="403.51" x2="435.79" y2="694.73"/>
<line x1="183.62" y1="656.53" x2="473.86" y2="656.53"/>
<line x1="459.58" y1="403.51" x2="459.58" y2="694.73"/>
<line x1="183.62" y1="680.40" x2="473.86" y2="680.40"/>
</g>
<g stroke="#000" stroke-opacity="0.17" stroke-width="0.35">
<rect x="447.69" y="405.90" width="23.79" height="23.87" fill="#FDAE95"/>
<rect x="423.90" y="429.77" width="23.79" height="23.87" fill="#FDE3D9"/>
<rect x="447.69" y="429.77" width="23.79" height="23.87" fill="#FDAE95"/>
<rect x="400.11" y="453.64" width="23.79" height="23.87" fill="#FD9573"/>
<rect x="423.90" y="453.64" width="23.79" height="23.87" fill="#FDC8B6"/>
<rect x="447.69" y="453.64" width="23.79" height="23.87" fill="#FFFFFF"/>
<rect x="376.32" y="477.51" width="23.79" height="23.87" fill="#FDE3D9"/>
<rect x="400.11" y="477.51" width="23.79" height="23.87" fill="#ECDEFA"/>
<rect x="423.90" y="477.51" width="23.79" height="23.87" fill="#FDE3D9"/>
<rect x="447.69" y="477.51" width="23.79" height="23.87" fill="#ECDEFA"/>
<rect x="352.53" y="501.38" width="23.79" height="23.87" fill="#FD3611"/>
<rect x="376.32" y="501.38" width="23.79" height="23.87" fill="#FDAE95"/>
<rect x="400.11" y="501.38" width="23.79" height="23.87" fill="#FFFFFF"/>
<rect x="423.90" y="501.38" width="23.79" height="23.87" fill="#FD9573"/>
<rect x="447.69" y="501.38" width="23.79" height="23.87" fill="#ECDEFA"/>
<rect x="328.74" y="525.25" width="23.79" height="23.87" fill="#FD6538"/>
<rect x="352.53" y="525.25" width="23.79" height="23.87" fill="#FD6538"/>
<rect x="376.32" y="525.25" width="23.79" height="23.87" fill="#FDE3D9"/>
<rect x="400.11" y="525.25" width="23.79" height="23.87" fill="#B086FA"/>
<rect x="423.90" y="525.25" width="23.79" height="23.87" fill="#FDAE95"/>
<rect x="447.69" y="525.25" width="23.79" height="23.87" fill="#ECDEFA"/>
<rect x="304.95" y="549.12" width="23.79" height="23.87" fill="#FFFFFF"/>
<rect x="328.74" y="549.12" width="23.79" height="23.87" fill="#B086FA"/>
<rect x="352.53" y="549.12" width="23.79" height="23.87" fill="#C5A2FA"/>
<rect x="376.32" y="549.12" width="23.79" height="23.87" fill="#ECDEFA"/>
<rect x="400.11" y="549.12" width="23.79" height="23.87" fill="#C5A2FA"/>
<rect x="423.90" y="549.12" width="23.79" height="23.87" fill="#8957FA"/>
<rect x="447.69" y="549.12" width="23.79" height="23.87" fill="#9564FA"/>
<rect x="281.16" y="572.99" width="23.79" height="23.87" fill="#FD4E22"/>
<rect x="304.95" y="572.99" width="23.79" height="23.87" fill="#ECDEFA"/>
<rect x="328.74" y="572.99" width="23.79" height="23.87" fill="#ECDEFA"/>
<rect x="352.53" y="572.99" width="23.79" height="23.87" fill="#FFFFFF"/>
<rect x="376.32" y="572.99" width="23.79" height="23.87" fill="#ECDEFA"/>
<rect x="400.11" y="572.99" width="23.79" height="23.87" fill="#B086FA"/>
<rect x="423.90" y="572.99" width="23.79" height="23.87" fill="#9564FA"/>
<rect x="447.69" y="572.99" width="23.79" height="23.87" fill="#3A14FA"/>
<rect x="257.37" y="596.86" width="23.79" height="23.87" fill="#FD6538"/>
<rect x="281.16" y="596.86" width="23.79" height="23.87" fill="#FDC8B6"/>
<rect x="304.95" y="596.86" width="23.79" height="23.87" fill="#FFFFFF"/>
<rect x="328.74" y="596.86" width="23.79" height="23.87" fill="#FDC8B6"/>
<rect x="352.53" y="596.86" width="23.79" height="23.87" fill="#FD9573"/>
<rect x="376.32" y="596.86" width="23.79" height="23.87" fill="#FDC8B6"/>
<rect x="400.11" y="596.86" width="23.79" height="23.87" fill="#B086FA"/>
<rect x="423.90" y="596.86" width="23.79" height="23.87" fill="#C5A2FA"/>
<rect x="447.69" y="596.86" width="23.79" height="23.87" fill="#7844FA"/>
<rect x="233.58" y="620.73" width="23.79" height="23.87" fill="#FFFFFF"/>
<rect x="257.37" y="620.73" width="23.79" height="23.87" fill="#FD7348"/>
<rect x="281.16" y="620.73" width="23.79" height="23.87" fill="#FD7348"/>
<rect x="304.95" y="620.73" width="23.79" height="23.87" fill="#FFFFFF"/>
<rect x="328.74" y="620.73" width="23.79" height="23.87" fill="#C5A2FA"/>
<rect x="352.53" y="620.73" width="23.79" height="23.87" fill="#D9BFFA"/>
<rect x="376.32" y="620.73" width="23.79" height="23.87" fill="#C5A2FA"/>
<rect x="400.11" y="620.73" width="23.79" height="23.87" fill="#6E3CFA"/>
<rect x="423.90" y="620.73" width="23.79" height="23.87" fill="#9564FA"/>
<rect x="447.69" y="620.73" width="23.79" height="23.87" fill="#C5A2FA"/>
<rect x="209.79" y="644.60" width="23.79" height="23.87" fill="#FD4E22"/>
<rect x="233.58" y="644.60" width="23.79" height="23.87" fill="#FDC8B6"/>
<rect x="257.37" y="644.60" width="23.79" height="23.87" fill="#FD9573"/>
<rect x="281.16" y="644.60" width="23.79" height="23.87" fill="#FDC8B6"/>
<rect x="304.95" y="644.60" width="23.79" height="23.87" fill="#FD7C54"/>
<rect x="328.74" y="644.60" width="23.79" height="23.87" fill="#FDAE95"/>
<rect x="352.53" y="644.60" width="23.79" height="23.87" fill="#FDAE95"/>
<rect x="376.32" y="644.60" width="23.79" height="23.87" fill="#FDE3D9"/>
<rect x="400.11" y="644.60" width="23.79" height="23.87" fill="#6E3CFA"/>
<rect x="423.90" y="644.60" width="23.79" height="23.87" fill="#C5A2FA"/>
<rect x="447.69" y="644.60" width="23.79" height="23.87" fill="#C5A2FA"/>
<rect x="186.00" y="668.47" width="23.79" height="23.87" fill="#FD4E22"/>
<rect x="209.79" y="668.47" width="23.79" height="23.87" fill="#FD9573"/>
<rect x="233.58" y="668.47" width="23.79" height="23.87" fill="#FDE3D9"/>
<rect x="257.37" y="668.47" width="23.79" height="23.87" fill="#FD7C54"/>
<rect x="281.16" y="668.47" width="23.79" height="23.87" fill="#FDE3D9"/>
<rect x="304.95" y="668.47" width="23.79" height="23.87" fill="#FDE3D9"/>
<rect x="328.74" y="668.47" width="23.79" height="23.87" fill="#FDC8B6"/>
<rect x="352.53" y="668.47" width="23.79" height="23.87" fill="#FDC8B6"/>
<rect x="376.32" y="668.47" width="23.79" height="23.87" fill="#FDC8B6"/>
<rect x="400.11" y="668.47" width="23.79" height="23.87" fill="#ECDEFA"/>
<rect x="423.90" y="668.47" width="23.79" height="23.87" fill="#D9BFFA"/>
<rect x="447.69" y="668.47" width="23.79" height="23.87" fill="#B086FA"/>
</g>
<g font-size="9.0" fill="#111" stroke="#111" stroke-width="0.12" text-anchor="middle">
<text x="459.58" y="421.21">0.3</text>
<text x="435.79" y="445.11">0.1</text>
<text x="459.58" y="445.11">0.3</text>
<text x="412.00" y="469.01">0.4</text>
<text x="435.79" y="469.01">0.2</text>
<text x="459.58" y="469.01">0</text>
<text x="388.22" y="492.91">0.1</text>
<text x="412.00" y="492.91">−0.1</text>
<text x="435.79" y="492.91">0.1</text>
<text x="459.58" y="492.91">−0.1</text>
<text x="364.42" y="516.81">0.8</text>
<text x="388.22" y="516.81">0.3</text>
<text x="412.00" y="516.81">0</text>
<text x="435.79" y="516.81">0.4</text>
<text x="459.58" y="516.81">−0.1</text>
<text x="340.63" y="540.71">0.6</text>
<text x="364.42" y="540.71">0.6</text>
<text x="388.22" y="540.71">0.1</text>
<text x="412.00" y="540.71">−0.4</text>
<text x="435.79" y="540.71">0.3</text>
<text x="459.58" y="540.71">−0.1</text>
<text x="316.85" y="564.61">0</text>
<text x="340.63" y="564.61">−0.4</text>
<text x="364.42" y="564.61">−0.3</text>
<text x="388.22" y="564.61">−0.1</text>
<text x="412.00" y="564.61">−0.3</text>
<text x="435.79" y="564.61">−0.5</text>
<text x="459.58" y="564.61">−0.5</text>
<text x="293.06" y="588.51">0.7</text>
<text x="316.85" y="588.51">−0.1</text>
<text x="340.63" y="588.51">−0.1</text>
<text x="364.42" y="588.51">0</text>
<text x="388.22" y="588.51">−0.1</text>
<text x="412.00" y="588.51">−0.4</text>
<text x="435.79" y="588.51">−0.5</text>
<text x="459.58" y="588.51">−0.8</text>
<text x="269.26" y="612.41">0.6</text>
<text x="293.06" y="612.41">0.2</text>
<text x="316.85" y="612.41">0</text>
<text x="340.63" y="612.41">0.2</text>
<text x="364.42" y="612.41">0.4</text>
<text x="388.22" y="612.41">0.2</text>
<text x="412.00" y="612.41">−0.4</text>
<text x="435.79" y="612.41">−0.3</text>
<text x="459.58" y="612.41">−0.6</text>
<text x="245.47" y="636.31">0</text>
<text x="269.26" y="636.31">0.5</text>
<text x="293.06" y="636.31">0.5</text>
<text x="316.85" y="636.31">0</text>
<text x="340.63" y="636.31">−0.3</text>
<text x="364.42" y="636.31">−0.2</text>
<text x="388.22" y="636.31">−0.3</text>
<text x="412.00" y="636.31">−0.6</text>
<text x="435.79" y="636.31">−0.5</text>
<text x="459.58" y="636.31">−0.3</text>
<text x="221.69" y="660.21">0.7</text>
<text x="245.47" y="660.21">0.2</text>
<text x="269.26" y="660.21">0.4</text>
<text x="293.06" y="660.21">0.2</text>
<text x="316.85" y="660.21">0.5</text>
<text x="340.63" y="660.21">0.3</text>
<text x="364.42" y="660.21">0.3</text>
<text x="388.22" y="660.21">0.1</text>
<text x="412.00" y="660.21">−0.6</text>
<text x="435.79" y="660.21">−0.3</text>
<text x="459.58" y="660.21">−0.3</text>
<text x="197.90" y="684.11">0.7</text>
<text x="221.69" y="684.11">0.4</text>
<text x="245.47" y="684.11">0.1</text>
<text x="269.26" y="684.11">0.5</text>
<text x="293.06" y="684.11">0.1</text>
<text x="316.85" y="684.11">0.1</text>
<text x="340.63" y="684.11">0.2</text>
<text x="364.42" y="684.11">0.2</text>
<text x="388.22" y="684.11">0.2</text>
<text x="412.00" y="684.11">−0.1</text>
<text x="435.79" y="684.11">−0.2</text>
<text x="459.58" y="684.11">−0.4</text>
</g>
<g stroke="#000" stroke-width="0.8" fill="none">
<path d="M454.88 412.85L464.28 422.82M454.88 422.82L464.28 412.85"/>
<path d="M431.09 436.75L440.49 446.72M431.09 446.72L440.49 436.75"/>
<path d="M454.88 436.75L464.28 446.72M454.88 446.72L464.28 436.75"/>
<path d="M407.31 460.65L416.70 470.62M407.31 470.62L416.70 460.65"/>
<path d="M431.09 460.65L440.49 470.62M431.09 470.62L440.49 460.65"/>
<path d="M454.88 460.65L464.28 470.62M454.88 470.62L464.28 460.65"/>
<path d="M383.52 484.55L392.92 494.52M383.52 494.52L392.92 484.55"/>
<path d="M407.31 484.55L416.70 494.52M407.31 494.52L416.70 484.55"/>
<path d="M431.09 484.55L440.49 494.52M431.09 494.52L440.49 484.55"/>
<path d="M454.88 484.55L464.28 494.52M454.88 494.52L464.28 484.55"/>
<path d="M383.52 508.45L392.92 518.42M383.52 518.42L392.92 508.45"/>
<path d="M407.31 508.45L416.70 518.42M407.31 518.42L416.70 508.45"/>
<path d="M431.09 508.45L440.49 518.42M431.09 518.42L440.49 508.45"/>
<path d="M454.88 508.45L464.28 518.42M454.88 518.42L464.28 508.45"/>
<path d="M383.52 532.35L392.92 542.32M383.52 542.32L392.92 532.35"/>
<path d="M407.31 532.35L416.70 542.32M407.31 542.32L416.70 532.35"/>
<path d="M431.09 532.35L440.49 542.32M431.09 542.32L440.49 532.35"/>
<path d="M454.88 532.35L464.28 542.32M454.88 542.32L464.28 532.35"/>
<path d="M312.15 556.25L321.55 566.22M312.15 566.22L321.55 556.25"/>
<path d="M335.94 556.25L345.33 566.22M335.94 566.22L345.33 556.25"/>
<path d="M359.72 556.25L369.12 566.22M359.72 566.22L369.12 556.25"/>
<path d="M383.52 556.25L392.92 566.22M383.52 566.22L392.92 556.25"/>
<path d="M407.31 556.25L416.70 566.22M407.31 566.22L416.70 556.25"/>
<path d="M431.09 556.25L440.49 566.22M431.09 566.22L440.49 556.25"/>
<path d="M454.88 556.25L464.28 566.22M454.88 566.22L464.28 556.25"/>
<path d="M312.15 580.15L321.55 590.12M312.15 590.12L321.55 580.15"/>
<path d="M335.94 580.15L345.33 590.12M335.94 590.12L345.33 580.15"/>
<path d="M359.72 580.15L369.12 590.12M359.72 590.12L369.12 580.15"/>
<path d="M383.52 580.15L392.92 590.12M383.52 590.12L392.92 580.15"/>
<path d="M407.31 580.15L416.70 590.12M407.31 590.12L416.70 580.15"/>
<path d="M288.36 604.05L297.75 614.02M288.36 614.02L297.75 604.05"/>
<path d="M312.15 604.05L321.55 614.02M312.15 614.02L321.55 604.05"/>
<path d="M335.94 604.05L345.33 614.02M335.94 614.02L345.33 604.05"/>
<path d="M359.72 604.05L369.12 614.02M359.72 614.02L369.12 604.05"/>
<path d="M383.52 604.05L392.92 614.02M383.52 614.02L392.92 604.05"/>
<path d="M407.31 604.05L416.70 614.02M407.31 614.02L416.70 604.05"/>
<path d="M431.09 604.05L440.49 614.02M431.09 614.02L440.49 604.05"/>
<path d="M240.78 627.95L250.17 637.92M240.78 637.92L250.17 627.95"/>
<path d="M264.56 627.95L273.96 637.92M264.56 637.92L273.96 627.95"/>
<path d="M288.36 627.95L297.75 637.92M288.36 637.92L297.75 627.95"/>
<path d="M312.15 627.95L321.55 637.92M312.15 637.92L321.55 627.95"/>
<path d="M335.94 627.95L345.33 637.92M335.94 637.92L345.33 627.95"/>
<path d="M359.72 627.95L369.12 637.92M359.72 637.92L369.12 627.95"/>
<path d="M383.52 627.95L392.92 637.92M383.52 637.92L392.92 627.95"/>
<path d="M454.88 627.95L464.28 637.92M454.88 637.92L464.28 627.95"/>
<path d="M240.78 651.85L250.17 661.82M240.78 661.82L250.17 651.85"/>
<path d="M264.56 651.85L273.96 661.82M264.56 661.82L273.96 651.85"/>
<path d="M288.36 651.85L297.75 661.82M288.36 661.82L297.75 651.85"/>
<path d="M312.15 651.85L321.55 661.82M312.15 661.82L321.55 651.85"/>
<path d="M335.94 651.85L345.33 661.82M335.94 661.82L345.33 651.85"/>
<path d="M359.72 651.85L369.12 661.82M359.72 661.82L369.12 651.85"/>
<path d="M383.52 651.85L392.92 661.82M383.52 661.82L392.92 651.85"/>
<path d="M431.09 651.85L440.49 661.82M431.09 661.82L440.49 651.85"/>
<path d="M454.88 651.85L464.28 661.82M454.88 661.82L464.28 651.85"/>
<path d="M216.99 675.75L226.38 685.72M216.99 685.72L226.38 675.75"/>
<path d="M240.78 675.75L250.17 685.72M240.78 685.72L250.17 675.75"/>
<path d="M264.56 675.75L273.96 685.72M264.56 685.72L273.96 675.75"/>
<path d="M288.36 675.75L297.75 685.72M288.36 685.72L297.75 675.75"/>
<path d="M312.15 675.75L321.55 685.72M312.15 685.72L321.55 675.75"/>
<path d="M335.94 675.75L345.33 685.72M335.94 685.72L345.33 675.75"/>
<path d="M359.72 675.75L369.12 685.72M359.72 685.72L369.12 675.75"/>
<path d="M383.52 675.75L392.92 685.72M383.52 685.72L392.92 675.75"/>
<path d="M407.31 675.75L416.70 685.72M407.31 685.72L416.70 675.75"/>
<path d="M431.09 675.75L440.49 685.72M431.09 685.72L440.49 675.75"/>
<path d="M454.88 675.75L464.28 685.72M454.88 685.72L464.28 675.75"/>
</g>
<g font-size="10.3" fill="#262626" stroke="#262626" stroke-width="0.18" text-anchor="end">
<text transform="translate(179.32 421.52) scale(0.93 1)">NLpT</text>
<text transform="translate(179.32 445.39) scale(0.93 1)">LW</text>
<text transform="translate(179.32 469.26) scale(0.93 1)">PH</text>
<text transform="translate(179.32 493.13) scale(0.93 1)">NCpS</text>
<text transform="translate(179.32 517.00) scale(0.93 1)">LL</text>
<text transform="translate(179.32 540.87) scale(0.93 1)">FCW</text>
<text transform="translate(179.32 564.74) scale(0.93 1)">FSW</text>
<text transform="translate(179.32 588.61) scale(0.93 1)">DWC</text>
<text transform="translate(179.32 612.48) scale(0.93 1)">DSW</text>
<text transform="translate(179.32 636.35) scale(0.93 1)">CW</text>
<text transform="translate(179.32 660.22) scale(0.93 1)">CL</text>
<text transform="translate(179.32 684.09) scale(0.93 1)">NSpL</text>
</g>
<g font-size="10.3" fill="#262626" stroke="#262626" stroke-width="0.18" text-anchor="end">
<text transform="translate(199.80 702.13) rotate(-45) scale(0.9 1)" x="0" y="3.69">CL</text>
<text transform="translate(223.59 702.13) rotate(-45) scale(0.9 1)" x="0" y="3.69">CW</text>
<text transform="translate(247.38 702.13) rotate(-45) scale(0.9 1)" x="0" y="3.69">DSW</text>
<text transform="translate(271.16 702.13) rotate(-45) scale(0.9 1)" x="0" y="3.69">DWC</text>
<text transform="translate(294.95 702.13) rotate(-45) scale(0.9 1)" x="0" y="3.69">FSW</text>
<text transform="translate(318.75 702.13) rotate(-45) scale(0.9 1)" x="0" y="3.69">FCW</text>
<text transform="translate(342.53 702.13) rotate(-45) scale(0.9 1)" x="0" y="3.69">LL</text>
<text transform="translate(366.32 702.13) rotate(-45) scale(0.9 1)" x="0" y="3.69">NCpS</text>
<text transform="translate(390.12 702.13) rotate(-45) scale(0.9 1)" x="0" y="3.69">PH</text>
<text transform="translate(413.90 702.13) rotate(-45) scale(0.9 1)" x="0" y="3.69">LW</text>
<text transform="translate(437.69 702.13) rotate(-45) scale(0.9 1)" x="0" y="3.69">NLpT</text>
<text transform="translate(461.48 702.13) rotate(-45) scale(0.9 1)" x="0" y="3.69">Alt</text>
</g>
<text x="161.6" y="397.1" font-family="'Liberation Serif',serif" font-weight="bold" font-size="17.2" fill="#111" stroke="#111" stroke-width="0.25">(c)</text>
<defs><linearGradient id="lg" x1="0" y1="1" x2="0" y2="0">
<stop offset="0.0000" stop-color="#0000FA"/>
<stop offset="0.0250" stop-color="#0D02FA"/>
<stop offset="0.0500" stop-color="#1B06FA"/>
<stop offset="0.0750" stop-color="#2A0DFA"/>
<stop offset="0.1000" stop-color="#3A14FA"/>
<stop offset="0.1250" stop-color="#491EFA"/>
<stop offset="0.1500" stop-color="#5929FA"/>
<stop offset="0.1750" stop-color="#6836FA"/>
<stop offset="0.2000" stop-color="#7844FA"/>
<stop offset="0.2250" stop-color="#8654FA"/>
<stop offset="0.2500" stop-color="#9564FA"/>
<stop offset="0.2750" stop-color="#A375FA"/>
<stop offset="0.3000" stop-color="#B086FA"/>
<stop offset="0.3250" stop-color="#BA94FA"/>
<stop offset="0.3500" stop-color="#C5A2FA"/>
<stop offset="0.3750" stop-color="#CFB0FA"/>
<stop offset="0.4000" stop-color="#D9BFFA"/>
<stop offset="0.4250" stop-color="#E3CEFA"/>
<stop offset="0.4500" stop-color="#ECDEFA"/>
<stop offset="0.4750" stop-color="#F6EEFA"/>
<stop offset="0.5000" stop-color="#FFFFFF"/>
<stop offset="0.5250" stop-color="#FDF1EC"/>
<stop offset="0.5500" stop-color="#FDE3D9"/>
<stop offset="0.5750" stop-color="#FDD5C7"/>
<stop offset="0.6000" stop-color="#FDC8B6"/>
<stop offset="0.6250" stop-color="#FDBBA5"/>
<stop offset="0.6500" stop-color="#FDAE95"/>
<stop offset="0.6750" stop-color="#FDA184"/>
<stop offset="0.7000" stop-color="#FD9573"/>
<stop offset="0.7250" stop-color="#FD8863"/>
<stop offset="0.7500" stop-color="#FD7C54"/>
<stop offset="0.7750" stop-color="#FD7045"/>
<stop offset="0.8000" stop-color="#FD6538"/>
<stop offset="0.8250" stop-color="#FD592C"/>
<stop offset="0.8500" stop-color="#FD4E22"/>
<stop offset="0.8750" stop-color="#FD4219"/>
<stop offset="0.9000" stop-color="#FD3611"/>
<stop offset="0.9250" stop-color="#FD2B0A"/>
<stop offset="0.9500" stop-color="#FD1E05"/>
<stop offset="0.9750" stop-color="#FD1102"/>
<stop offset="1.0000" stop-color="#FD0000"/>
</linearGradient></defs>
<rect x="486.8" y="521.9" width="13.6" height="68.0" fill="url(#lg)"/>
<text x="486.8" y="515.8" font-size="8.7" fill="#111">Corr</text>
<g font-size="7" fill="#222">
<text x="504.2" y="524.60">1.0</text>
<text x="504.2" y="541.60">0.5</text>
<path d="M486.8 538.90h2.7M500.40000000000003 538.90h-2.7" stroke="#fff" stroke-width="0.4" opacity="0.8"/>
<text x="504.2" y="558.60">0.0</text>
<path d="M486.8 555.90h2.7M500.40000000000003 555.90h-2.7" stroke="#fff" stroke-width="0.4" opacity="0.8"/>
<text x="504.2" y="575.60">−0.5</text>
<path d="M486.8 572.90h2.7M500.40000000000003 572.90h-2.7" stroke="#fff" stroke-width="0.4" opacity="0.8"/>
<text x="504.2" y="592.60">−1.0</text>
</g>
</svg>
</body></html>
